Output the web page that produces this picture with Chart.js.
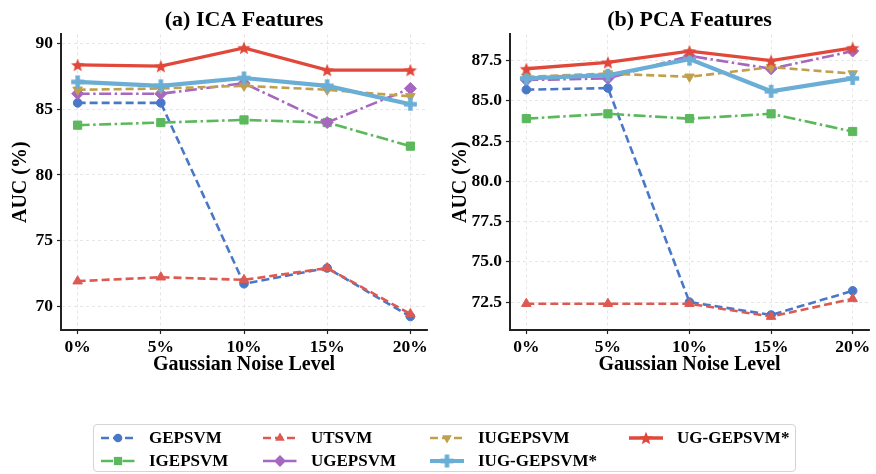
<!DOCTYPE html>
<html>
<head>
<meta charset="utf-8">
<script src="https://cdn.jsdelivr.net/npm/chart.js"></script>
<style>
  body { margin: 0; background: #fff; }
  #wrap { position: relative; width: 876px; height: 474px; font-family: 'Liberation Serif', 'Times New Roman', serif; }
  .panel { position: absolute; top: 0; }
  #legend { position: absolute; left: 93px; top: 424px; width: 703px; height: 48px; border: 1px solid #d4d4d4; border-radius: 4px; box-sizing: border-box; }
  .item { position: absolute; height: 20px; display: flex; align-items: center; }
  .item span { font-weight: bold; font-size: 17px; color: #000; margin-left: 14px; white-space: nowrap; }
</style>
</head>
<body>
<div id="wrap">
  <div class="panel" style="left:0;width:440px;height:380px;"><canvas id="icaChart" width="440" height="380"></canvas></div>
  <div class="panel" style="left:440px;width:436px;height:380px;"><canvas id="pcaChart" width="436" height="380"></canvas></div>
  <div id="legend"></div>
</div>
<script>
// noise levels on the x axis
const noiseLevels = ['0%', '5%', '10%', '15%', '20%'];

// (a) ICA features, AUC (%)
const gepsvmICA = [85.5, 85.5, 71.7, 72.9, 69.2];
const igepsvmICA = [83.8, 84.0, 84.2, 84.0, 82.2];
const utsvmICA = [71.9, 72.2, 72.0, 72.9, 69.4];
const ugepsvmICA = [86.2, 86.2, 87.0, 84.0, 86.6];
const iugepsvmICA = [86.5, 86.6, 86.8, 86.5, 86.0];
const iugGepsvmICA = [87.1, 86.8, 87.4, 86.8, 85.4];
const ugGepsvmICA = [88.4, 88.3, 89.7, 88.0, 88.0];

// (b) PCA features, AUC (%)
const gepsvmPCA = [85.7, 85.8, 72.5, 71.7, 73.2];
const igepsvmPCA = [83.9, 84.2, 83.9, 84.2, 83.1];
const utsvmPCA = [72.4, 72.4, 72.4, 71.6, 72.7];
const ugepsvmPCA = [86.3, 86.4, 87.8, 87.0, 88.1];
const iugepsvmPCA = [86.5, 86.7, 86.5, 87.1, 86.7];
const iugGepsvmPCA = [86.4, 86.6, 87.6, 85.6, 86.4];
const ugGepsvmPCA = [87.0, 87.4, 88.1, 87.5, 88.3];

// y tick labels
const icaYTicks = [70, 75, 80, 85, 90];
const pcaYTicks = [72.5, 75.0, 77.5, 80.0, 82.5, 85.0, 87.5];

const FONT = "'Liberation Serif', 'Times New Roman', serif";
const DASH = [8, 4];
const DASHDOT = [12, 3.5, 2.5, 3.5];

// custom marker images (filled star and thick plus)
function makeStar(color, r) {
  const c = document.createElement('canvas');
  const s = Math.ceil(r * 2 + 2);
  c.width = s; c.height = s;
  const ctx = c.getContext('2d');
  ctx.fillStyle = color;
  ctx.beginPath();
  for (let i = 0; i < 10; i++) {
    const rad = i % 2 === 0 ? r : r * 0.45;
    const a = -Math.PI / 2 + i * Math.PI / 5;
    ctx.lineTo(s / 2 + rad * Math.cos(a), s / 2 + rad * Math.sin(a) + r * 0.1);
  }
  ctx.closePath();
  ctx.fill();
  return c;
}
function makePlus(color, r, t) {
  const c = document.createElement('canvas');
  const s = Math.ceil(r * 2 + 2);
  c.width = s; c.height = s;
  const ctx = c.getContext('2d');
  ctx.fillStyle = color;
  ctx.fillRect(s / 2 - r, s / 2 - t / 2, 2 * r, t);
  ctx.fillRect(s / 2 - t / 2, s / 2 - r, t, 2 * r);
  return c;
}

const methods = [
  { name: 'GEPSVM', color: '#4a78c8', dash: DASH, width: 2.6, marker: 'circle', radius: 4.3 },
  { name: 'IGEPSVM', color: '#5cb85c', dash: DASHDOT, width: 2.6, marker: 'rect', radius: 5.8 },
  { name: 'UTSVM', color: '#dc5a52', dash: DASH, width: 2.6, marker: 'triangle', radius: 5.5 },
  { name: 'UGEPSVM', color: '#a766c0', dash: DASHDOT, width: 2.6, marker: 'rectRot', radius: 6 },
  { name: 'IUGEPSVM', color: '#c2a04b', dash: DASH, width: 2.6, marker: 'triangle', radius: 5.5, rotation: 180 },
  { name: 'IUG-GEPSVM*', color: '#6aaed6', dash: [], width: 4.2, marker: 'plus', radius: 6 },
  { name: 'UG-GEPSVM*', color: '#e2483a', dash: [], width: 3.3, marker: 'star', radius: 6 }
];

const icaSeries = [gepsvmICA, igepsvmICA, utsvmICA, ugepsvmICA, iugepsvmICA, iugGepsvmICA, ugGepsvmICA];
const pcaSeries = [gepsvmPCA, igepsvmPCA, utsvmPCA, ugepsvmPCA, iugepsvmPCA, iugGepsvmPCA, ugGepsvmPCA];

function pointStyleFor(m) {
  if (m.marker === 'star') return makeStar(m.color, 7);
  if (m.marker === 'plus') return makePlus(m.color, 6.5, 4.5);
  return m.marker;
}

function buildChart(canvasId, title, series, yTicks, yWidth, rightPad, decimals) {
  const all = series.flat();
  const lo = Math.min(...all), hi = Math.max(...all);
  const pad = (hi - lo) * 0.05;

  const datasets = methods.map((m, i) => ({
    label: m.name,
    data: series[i].map((v, k) => ({ x: k, y: v })),
    borderColor: m.color,
    backgroundColor: m.color,
    borderWidth: m.width,
    borderDash: m.dash,
    pointStyle: pointStyleFor(m),
    pointRadius: m.radius,
    pointRotation: m.rotation || 0,
    pointBackgroundColor: m.color,
    pointBorderColor: m.color,
    pointBorderWidth: 1,
    tension: 0,
    order: methods.length - i
  }));

  return new Chart(document.getElementById(canvasId), {
    type: 'line',
    data: { datasets },
    options: {
      responsive: false,
      animation: false,
      devicePixelRatio: 1,
      layout: { padding: { left: 0, right: rightPad, top: 0, bottom: 0 } },
      plugins: {
        legend: { display: false },
        tooltip: { enabled: false },
        title: {
          display: true,
          text: title,
          fullSize: false,
          color: '#000',
          font: { family: FONT, size: 22, weight: 'bold' },
          padding: { top: 7, bottom: 1 }
        }
      },
      scales: {
        x: {
          type: 'linear',
          min: -0.2,
          max: 4.2,
          afterBuildTicks: s => { s.ticks = noiseLevels.map((_, k) => ({ value: k })); },
          afterFit: s => { s.height = 50; },
          ticks: {
            callback: v => noiseLevels[v],
            color: '#000',
            padding: 3,
            maxRotation: 0,
            font: { family: FONT, size: 17.5, weight: 'bold' }
          },
          grid: { color: '#e0e0e0', lineWidth: 0.8, tickLength: 4, tickColor: '#222', tickWidth: 1.2 },
          border: { color: '#222', width: 2, dash: [3, 3] },
          title: {
            display: true,
            text: 'Gaussian Noise Level',
            color: '#000',
            font: { family: FONT, size: 20, weight: 'bold' },
            padding: { top: 0, bottom: 3 }
          }
        },
        y: {
          min: lo - pad,
          max: hi + pad,
          afterBuildTicks: s => { s.ticks = yTicks.map(v => ({ value: v })); },
          afterFit: s => { s.width = yWidth; },
          ticks: {
            callback: v => v.toFixed(decimals),
            color: '#000',
            padding: 4,
            font: { family: FONT, size: 17.5, weight: 'bold' }
          },
          grid: { color: '#e0e0e0', lineWidth: 0.8, tickLength: 4, tickColor: '#222', tickWidth: 1.2 },
          border: { color: '#222', width: 2, dash: [3, 3] },
          title: {
            display: true,
            text: 'AUC (%)',
            color: '#000',
            font: { family: FONT, size: 20, weight: 'bold' },
            padding: { top: 9, bottom: 0 }
          }
        }
      }
    }
  });
}

buildChart('icaChart', '(a) ICA Features', icaSeries, icaYTicks, 61, 13, 0);
buildChart('pcaChart', '(b) PCA Features', pcaSeries, pcaYTicks, 70, 1, 1);

// legend (matplotlib style, 4 columns, column-major)
function drawMarker(ctx, m, x, y) {
  ctx.fillStyle = m.color;
  ctx.beginPath();
  const r = m.radius;
  if (m.marker === 'circle') {
    ctx.arc(x, y, r, 0, Math.PI * 2);
  } else if (m.marker === 'rect') {
    const h = r * Math.SQRT1_2;
    ctx.rect(x - h, y - h, 2 * h, 2 * h);
  } else if (m.marker === 'rectRot') {
    ctx.moveTo(x, y - r); ctx.lineTo(x + r, y); ctx.lineTo(x, y + r); ctx.lineTo(x - r, y);
  } else if (m.marker === 'triangle') {
    const d = m.rotation ? -1 : 1;
    ctx.moveTo(x, y - d * r); ctx.lineTo(x + r * 0.87, y + d * r * 0.5); ctx.lineTo(x - r * 0.87, y + d * r * 0.5);
  } else {
    const img = pointStyleFor(m);
    ctx.drawImage(img, x - img.width / 2, y - img.height / 2);
    return;
  }
  ctx.closePath();
  ctx.fill();
}

const legendCols = [7, 169, 336, 535];
const legendRows = [3, 26];
const legendEl = document.getElementById('legend');
methods.forEach((m, i) => {
  const col = Math.floor(i / 2), row = i % 2;
  const item = document.createElement('div');
  item.className = 'item';
  item.style.left = legendCols[col] + 'px';
  item.style.top = legendRows[row] + 'px';
  const c = document.createElement('canvas');
  c.width = 34; c.height = 20;
  const ctx = c.getContext('2d');
  ctx.strokeStyle = m.color;
  ctx.lineWidth = m.width;
  ctx.setLineDash(m.dash);
  ctx.beginPath();
  ctx.moveTo(0, 10); ctx.lineTo(34, 10);
  ctx.stroke();
  ctx.setLineDash([]);
  drawMarker(ctx, m, 17, 10);
  item.appendChild(c);
  const label = document.createElement('span');
  label.textContent = m.name;
  item.appendChild(label);
  legendEl.appendChild(item);
});
</script>
</body>
</html>
